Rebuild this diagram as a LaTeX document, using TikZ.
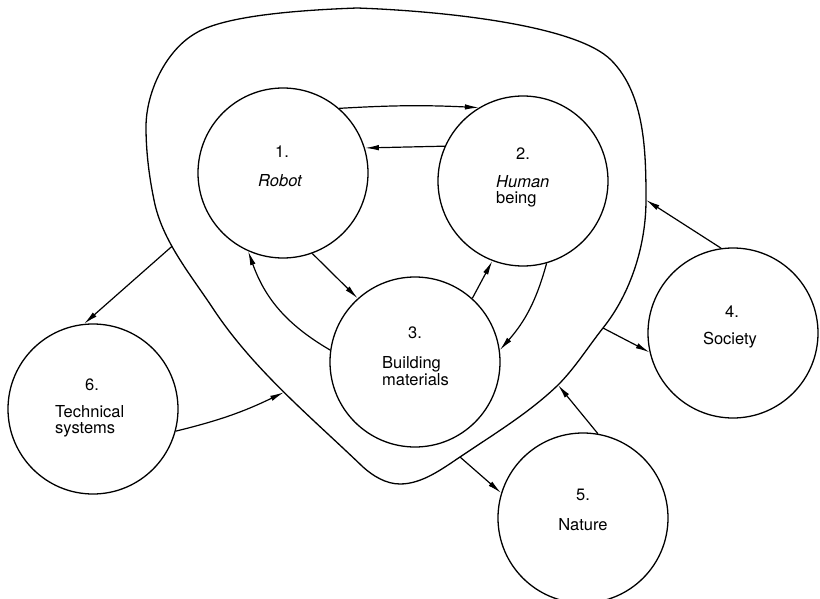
\documentclass[tikz,border=0pt]{standalone}
\usepackage{fontspec}
\setmainfont{TeX Gyre Heros}
\usetikzlibrary{arrows.meta,shapes.geometric}
\begin{document}
\begin{tikzpicture}[x=1pt,y=-1pt,
  ring/.style={circle,draw,line width=1.3pt,minimum size=170pt,inner sep=0pt},
  conn/.style={line width=1.2pt,-{Latex[length=14pt,width=5.5pt]}},
  txt/.style={anchor=base,inner sep=0pt,font=\fontsize{16.5}{17}\selectfont},
  txtl/.style={anchor=base west,inner sep=0pt,font=\fontsize{16.5}{17}\selectfont}]
\useasboundingbox (0,0) rectangle (820,599);
% outer boundary anchor points
\coordinate (pA) at (357,8);
\coordinate (pB) at (611,60);
\coordinate (oD) at (646,200);
\coordinate (oC) at (603,328);
\coordinate (oE) at (558,385);
\coordinate (oF) at (460,457);
\coordinate (pG) at (400,484);
\coordinate (pH) at (363,467);
\coordinate (pJ) at (214,310);
\coordinate (pK) at (154,200);
\coordinate (pL) at (146,127);
\coordinate (pM) at (196,33);
\draw[line width=1.3pt] (pA)
  .. controls (443,11) and (576,25) .. (pB)
  .. controls (645,94) and (646,152) .. (oD)
  .. controls (646,245) and (631,293) .. (oC)
  .. controls (588,347) and (575,368) .. (oE)
  .. controls (529,413) and (494,434) .. (oF)
  .. controls (442,469) and (422,484) .. (pG)
  .. controls (386,484) and (373,476) .. (pH)
  .. controls (311,417) and (254,370) .. coordinate[pos=0.5] (oB) (pJ)
  .. controls (191,275) and (162,241) .. coordinate[pos=0.6] (oA) (pK)
  .. controls (149,176) and (146,151) .. (pL)
  .. controls (146,92) and (166,50) .. (pM)
  .. controls (226,15) and (303,10) .. (pA) -- cycle;
% circles
\node[ring] (c1) at (283,173) {};
\node[ring] (c2) at (523,181) {};
\node[ring] (c3) at (415,362) {};
\node[ring] (c4) at (733,333) {};
\node[ring] (c5) at (583,518) {};
\node[ring] (c6) at (93,409) {};
% texts
\node[txt] (n1) at (282,158) {1.};
\node[txt] (l1) at (280,187) {\itshape Robot};
\node[txt] (n2) at (523,160) {2.};
\node[txtl] (l2a) at (496,188) {\itshape Human};
\node[txtl] (l2b) at (496,204) {being};
\node[txt] (n3) at (415,338) {3.};
\node[txtl] (l3a) at (382,368) {Building};
\node[txtl] (l3b) at (382,385) {materials};
\node[txt] (n4) at (732,317) {4.};
\node[txt] (l4) at (730,344) {Society};
\node[txt] (n5) at (583,500) {5.};
\node[txt] (l5) at (583,530) {Nature};
\node[txt] (n6) at (92,390) {6.};
\node[txtl] (l6a) at (55,417) {Technical};
\node[txtl] (l6b) at (55,433) {systems};
% connectors
\draw[conn] (c1.49.8) to[bend left=3] (c2.121);
\draw[conn] (c2.156) -- (c1.17);
\draw[conn] (c1.-70) -- (c3.132.6);
\draw[conn] (c3.172) to[bend left=20] (c1.246);
\draw[conn] (c3.48.7) -- (c2.249);
\draw[conn] (c2.-74) to[bend left=13] (c3.8);
\draw[conn] (oA) -- (c6.96.8);
\draw[conn] (c6.-15) to[bend right=6] (oB);
\draw[conn] (oC) -- (c4.193);
\draw[conn] (c4.98.8) -- (oD);
\draw[conn] (c5.80) -- (oE);
\draw[conn] (oF) -- (c5.163);
\end{tikzpicture}
\end{document}
